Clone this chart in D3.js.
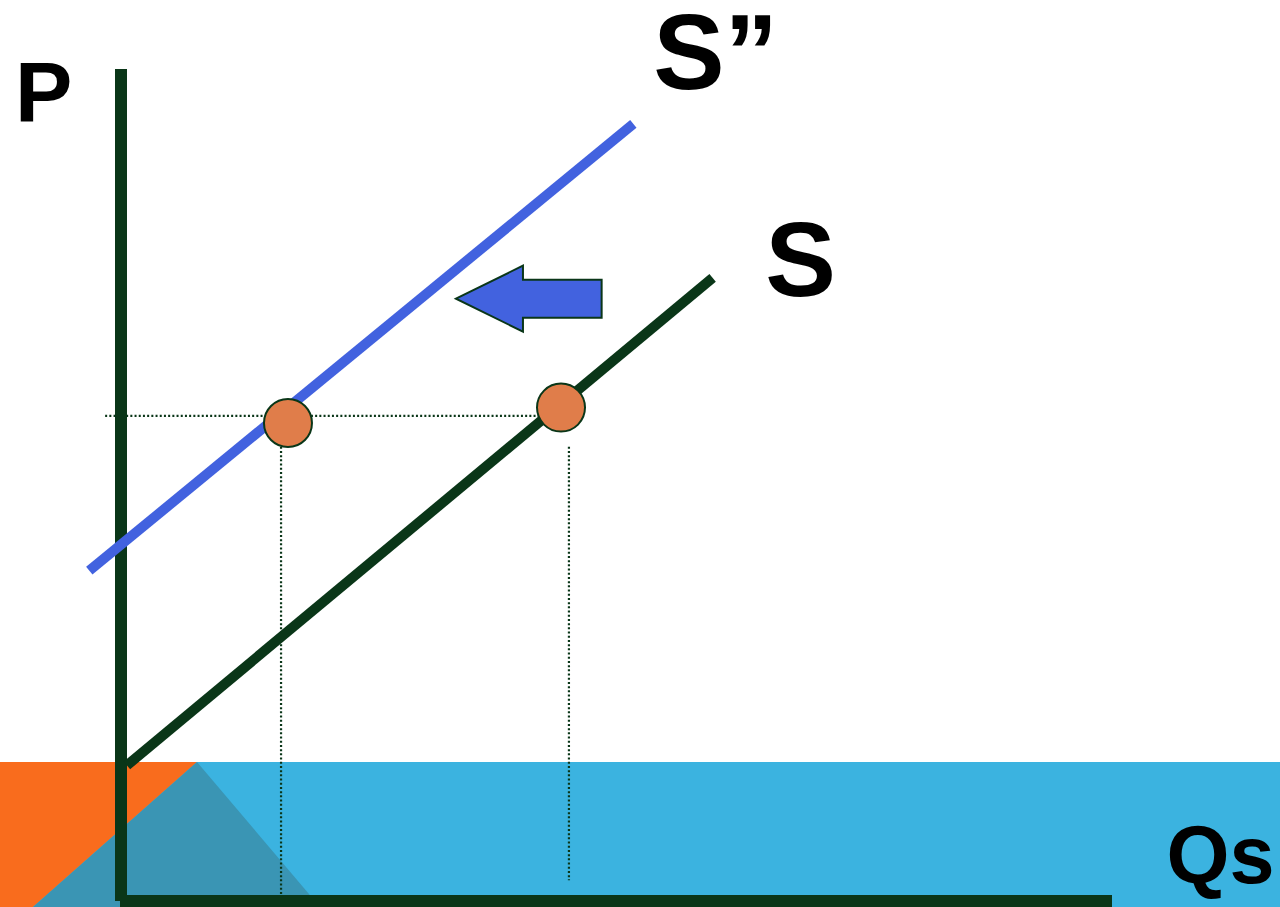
<!DOCTYPE html>
<html>
<head>
<meta charset="utf-8">
<script src="https://cdn.jsdelivr.net/npm/d3@7"></script>
<style>
  html, body { margin: 0; padding: 0; background: #ffffff; }
  svg { display: block; }
  text { font-family: "Liberation Sans", Arial, sans-serif; font-weight: bold; fill: #000; }
</style>
</head>
<body>
<div id="chart"></div>
<script>
// curves (quantity, price) in chart units
const supplyS = [[0.06, 1.63], [5.97, 7.49]];
const supplyS2 = [[-0.32, 3.97], [5.17, 9.34]];
// equilibrium points
const points = [{q: 1.685, p: 5.745}, {q: 4.44, p: 5.93}];
// guide lines
const guideH = [[-0.16, 5.83], [4.23, 5.83]];
const guideV = [
    [[1.615, 5.46], [1.615, 0.07]],
    [[4.52, 5.46], [4.52, 0.25]]
];
// shift arrow: tip and tail (chart units)
const arrowTip = [3.38, 7.24];
const arrowTail = 4.85;
// labels
const labels = [
    {text: "P", q: -1.07, p: 9.36, size: 86},
    {text: "S\u201D", q: 5.37, p: 9.76, size: 107},
    {text: "S", q: 6.5, p: 7.27, size: 106},
    {text: "Qs", q: 10.55, p: 0.22, size: 81}
];

const width = 1280, height = 907;
const darkGreen = "#0a3618";
const blue = "#4262df";

const svg = d3.select("#chart").append("svg")
    .attr("width", width)
    .attr("height", height);

// == background band == //
svg.append("rect")
    .attr("x", 0).attr("y", 762)
    .attr("width", width).attr("height", height - 762)
    .attr("fill", "#3bb3e0");
svg.append("polygon")
    .attr("points", "0,762 197,762 33,907 0,907")
    .attr("fill", "#f96c1d");
svg.append("polygon")
    .attr("points", "197,762 33,907 320,907")
    .attr("fill", "#3a95b4");

// == scales == //
const x = d3.scaleLinear().domain([0, 10]).range([121, 1112]);
const y = d3.scaleLinear().domain([0, 10]).range([901, 69]);

const line = d3.line().x(d => x(d[0])).y(d => y(d[1]));

// guides
const dotted = svg.append("g")
    .attr("fill", "none")
    .attr("stroke", darkGreen)
    .attr("stroke-width", 2.2)
    .attr("stroke-dasharray", "2,2.2");
dotted.append("path").attr("d", line(guideH));
guideV.forEach(g => dotted.append("path").attr("d", line(g)));

// axes
svg.append("line")
    .attr("x1", x(0)).attr("x2", x(0))
    .attr("y1", y(10)).attr("y2", y(0))
    .attr("stroke", darkGreen).attr("stroke-width", 12);
svg.append("line")
    .attr("x1", x(0) - 1).attr("x2", x(10))
    .attr("y1", y(0)).attr("y2", y(0))
    .attr("stroke", darkGreen).attr("stroke-width", 12);

// supply curves
svg.append("path")
    .attr("d", line(supplyS))
    .attr("fill", "none")
    .attr("stroke", darkGreen)
    .attr("stroke-width", 10);
svg.append("path")
    .attr("d", line(supplyS2))
    .attr("fill", "none")
    .attr("stroke", blue)
    .attr("stroke-width", 10);

// arrow
const tx = x(arrowTip[0]), ty = y(arrowTip[1]), ex = x(arrowTail);
const headLen = 67, headHalf = 33, shaftHalf = 19;
svg.append("polygon")
    .attr("points", [
        [tx, ty],
        [tx + headLen, ty - headHalf],
        [tx + headLen, ty - shaftHalf],
        [ex, ty - shaftHalf],
        [ex, ty + shaftHalf],
        [tx + headLen, ty + shaftHalf],
        [tx + headLen, ty + headHalf]
    ].map(d => d.join(",")).join(" "))
    .attr("fill", blue)
    .attr("stroke", darkGreen)
    .attr("stroke-width", 2);

// points
svg.selectAll(".pt")
    .data(points)
    .enter().append("circle")
    .attr("class", "pt")
    .attr("cx", d => x(d.q))
    .attr("cy", d => y(d.p))
    .attr("r", 24)
    .attr("fill", "#e07d4a")
    .attr("stroke", darkGreen)
    .attr("stroke-width", 2);

// labels
svg.selectAll(".lbl")
    .data(labels)
    .enter().append("text")
    .attr("class", "lbl")
    .attr("x", d => x(d.q))
    .attr("y", d => y(d.p))
    .attr("font-size", d => d.size)
    .text(d => d.text);
</script>
</body>
</html>
